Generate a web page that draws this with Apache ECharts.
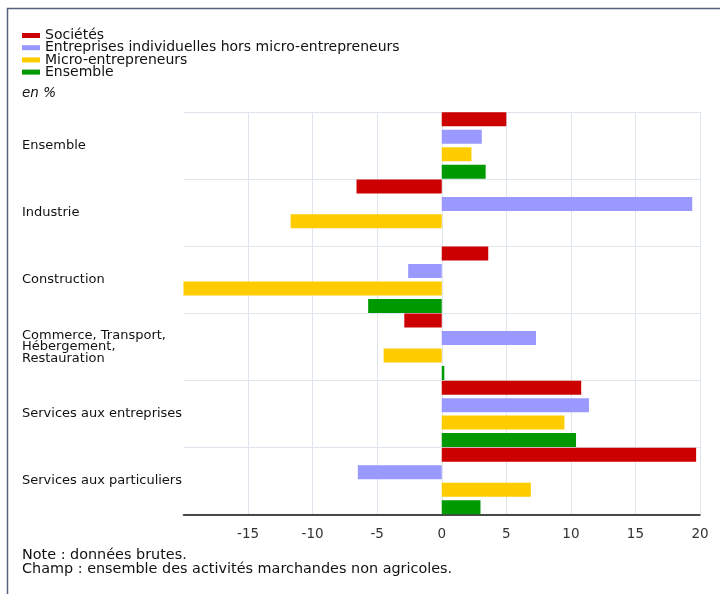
<!DOCTYPE html>
<html>
<head>
<meta charset="utf-8">
<script src="https://cdn.jsdelivr.net/npm/echarts@6/dist/echarts.min.js"></script>
<style>
  html, body { margin: 0; padding: 0; background: #ffffff; }
  #chart { width: 720px; height: 594px; }
</style>
</head>
<body>
<div id="chart"></div>
<script>
// Sectors (top to bottom)
const categories = [
  'Ensemble',
  'Industrie',
  'Construction',
  'Commerce, Transport,\nHébergement,\nRestauration',
  'Services aux entreprises',
  'Services aux particuliers'
];

// Change, in %, by type of business
const societes     = [5.0, -6.6,   3.6, -2.9, 10.8, 19.7];
const individuels  = [3.1, 19.4,  -2.6,  7.3, 11.4, -6.5];
const micro        = [2.3, -11.7, -20.0, -4.5, 9.5,  6.9];
const ensemble     = [3.4, null,  -5.7,  0.2, 10.4,  3.0];

const seriesNames = [
  'Sociétés',
  'Entreprises individuelles hors micro-entrepreneurs',
  'Micro-entrepreneurs',
  'Ensemble'
];
const seriesColors = ['#cc0000', '#9999ff', '#ffcc00', '#009900'];

const xTicks = { min: -20, max: 20, step: 5 };

const FONT = 'DejaVu Sans';
const chart = echarts.init(document.getElementById('chart'), null, { renderer: 'canvas' });

const values = [societes, individuels, micro, ensemble];

chart.setOption({
  animation: false,
  backgroundColor: '#ffffff',
  textStyle: { fontFamily: FONT },
  legend: {
    orient: 'vertical',
    left: 22,
    top: 28.5,
    padding: 0,
    itemGap: -1.8,
    itemWidth: 18,
    itemHeight: 5,
    icon: 'rect',
    selectedMode: false,
    textStyle: { fontFamily: FONT, fontSize: 14, lineHeight: 12.5, color: '#111' },
    data: seriesNames
  },
  grid: { left: 183.5, right: 20, top: 112, bottom: 79.5, containLabel: false },
  xAxis: {
    type: 'value',
    min: xTicks.min,
    max: xTicks.max,
    interval: xTicks.step,
    axisLine: { show: true, onZero: false, lineStyle: { color: '#111', width: 1.5 } },
    axisTick: { show: false },
    axisLabel: {
      margin: 12.5,
      fontFamily: FONT,
      fontSize: 13.5,
      color: '#333',
      formatter: v => (v === xTicks.min ? '' : String(v))
    },
    splitLine: { show: true, showMinLine: false, lineStyle: { color: '#dfe5ec', width: 1 } }
  },
  yAxis: {
    type: 'category',
    inverse: true,
    data: categories,
    axisLine: { show: false },
    axisTick: { show: false },
    splitLine: { show: true, lineStyle: { color: '#dfe5ec', width: 1 } },
    axisLabel: {
      align: 'left',
      margin: 161.5,
      fontFamily: FONT,
      fontSize: 13,
      lineHeight: 11.5,
      color: '#111',
      padding: [3, 0, 0, 0]
    }
  },
  series: seriesNames.map((name, i) => ({
    name,
    type: 'bar',
    data: values[i],
    barGap: '25%',
    barCategoryGap: '1%',
    itemStyle: { color: seriesColors[i] }
  })),
  graphic: [
    {
      type: 'polyline',
      silent: true,
      shape: { points: [[7.5, 594], [7.5, 8.5], [720, 8.5]] },
      style: { stroke: '#56637f', lineWidth: 1.5, fill: null }
    },
    {
      type: 'text',
      left: 22,
      top: 86,
      style: { text: 'en %', font: 'italic 13.5px "DejaVu Sans"', fill: '#111' }
    },
    {
      type: 'text',
      left: 22,
      top: 548.5,
      style: {
        text: 'Note : données brutes.\nChamp : ensemble des activités marchandes non agricoles.',
        font: '14.4px "DejaVu Sans"',
        lineHeight: 14,
        fill: '#111'
      }
    }
  ]
});
</script>
</body>
</html>
